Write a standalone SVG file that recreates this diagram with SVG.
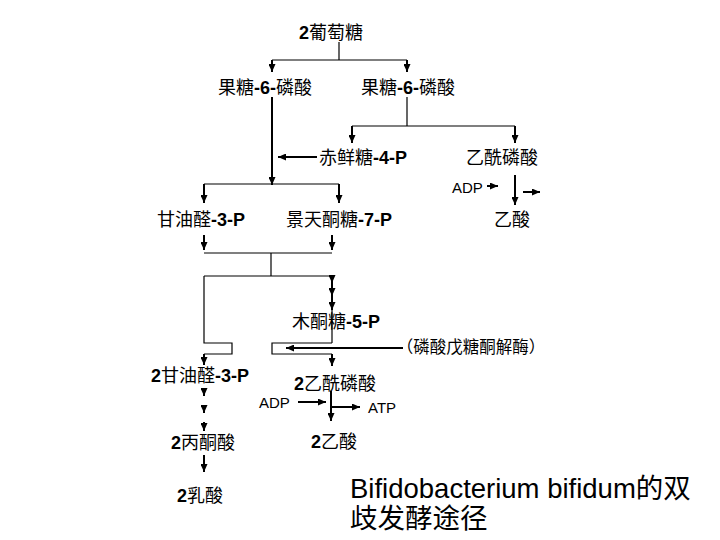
<svg xmlns="http://www.w3.org/2000/svg" width="720" height="540" viewBox="0 0 720 540">
<style>
text{font-family:"Liberation Sans","Noto Sans CJK SC",sans-serif;font-size:18px;fill:#000}
.b{font-weight:bold}
.s{font-size:15px}
.e{font-size:16.5px}
.t{font-size:27.5px}
.c line,.c polyline{stroke:#000;fill:none}
.w{stroke-width:2}
.n{stroke-width:1.2}
</style>
<defs>
<marker id="a" markerUnits="userSpaceOnUse" markerWidth="8" markerHeight="7" refX="8" refY="3.5" orient="auto">
<path d="M0,0 L8,3.5 L0,7 z" fill="#000"/>
</marker>
</defs>
<rect width="720" height="540" fill="#fff"/>
<g class="c" id="connectors">
<line class="n" x1="339" y1="42" x2="339" y2="60"/>
<line class="n" x1="272" y1="60" x2="407" y2="60"/>
<line class="w" x1="272" y1="60" x2="272" y2="72" marker-end="url(#a)"/>
<line class="w" x1="407" y1="60" x2="407" y2="72" marker-end="url(#a)"/>
<line class="w" x1="272" y1="97" x2="272" y2="185" marker-end="url(#a)"/>
<line class="n" x1="407" y1="97" x2="407" y2="126"/>
<line class="n" x1="352" y1="126" x2="515" y2="126"/>
<line class="w" x1="352" y1="126" x2="352" y2="143" marker-end="url(#a)"/>
<line class="w" x1="515" y1="126" x2="515" y2="143" marker-end="url(#a)"/>
<line class="w" x1="317" y1="157" x2="278" y2="157" marker-end="url(#a)"/>
<line class="n" x1="204" y1="184" x2="339" y2="184"/>
<line class="w" x1="204" y1="184" x2="204" y2="203" marker-end="url(#a)"/>
<line class="w" x1="339" y1="184" x2="339" y2="203" marker-end="url(#a)"/>
<line class="w" x1="487" y1="186" x2="498" y2="186" marker-end="url(#a)"/>
<line class="w" x1="515" y1="175" x2="515" y2="205" marker-end="url(#a)"/>
<line class="w" x1="523" y1="192" x2="540" y2="192" marker-end="url(#a)"/>
<line class="w" x1="204" y1="235" x2="204" y2="250" marker-end="url(#a)"/>
<line class="w" x1="332" y1="235" x2="332" y2="250" marker-end="url(#a)"/>
<line class="n" x1="204" y1="253" x2="332" y2="253"/>
<line class="n" x1="271" y1="253" x2="271" y2="276"/>
<line class="n" x1="204" y1="276" x2="332" y2="276"/>
<polyline class="n" points="204,276 204,343 232,343 232,354 204,354"/>
<line class="w" x1="204" y1="354" x2="204" y2="365" marker-end="url(#a)"/>
<line class="w" x1="332" y1="276" x2="332" y2="283" marker-end="url(#a)"/>
<line class="w" x1="332" y1="283" x2="332" y2="296" marker-end="url(#a)"/>
<line class="w" x1="332" y1="296" x2="332" y2="310" marker-end="url(#a)"/>
<line class="n" x1="332" y1="310" x2="332" y2="343"/>
<polyline class="n" points="332,343 272,343 272,354 332,354"/>
<line class="w" x1="332" y1="354" x2="332" y2="366" marker-end="url(#a)"/>
<line class="w" x1="403" y1="348" x2="286" y2="348" marker-end="url(#a)"/>
<line class="w" x1="204" y1="388" x2="204" y2="396" marker-end="url(#a)"/>
<line class="w" x1="204" y1="405" x2="204" y2="413" marker-end="url(#a)"/>
<line class="w" x1="204" y1="422" x2="204" y2="431" marker-end="url(#a)"/>
<line class="w" x1="204" y1="455" x2="204" y2="472" marker-end="url(#a)"/>
<line class="w" x1="331" y1="391" x2="331" y2="421" marker-end="url(#a)"/>
<line class="w" x1="298" y1="402" x2="326" y2="402" marker-end="url(#a)"/>
<line class="w" x1="331" y1="407" x2="360" y2="407" marker-end="url(#a)"/>
</g>
<g id="glucose"><text x="331" y="39" text-anchor="middle"><tspan class="b">2</tspan>葡萄糖</text></g>
<g id="f6p-left"><text x="265" y="94" text-anchor="middle">果糖<tspan class="b">-6-</tspan>磷酸</text></g>
<g id="f6p-right"><text x="408" y="94" text-anchor="middle">果糖<tspan class="b">-6-</tspan>磷酸</text></g>
<g id="e4p"><text x="363" y="164" text-anchor="middle">赤鲜糖<tspan class="b">-4-P</tspan></text></g>
<g id="acetylp"><text x="502" y="164" text-anchor="middle">乙酰磷酸</text></g>
<g id="adp1"><text class="s" x="452" y="193">ADP</text></g>
<g id="g3p"><text x="201" y="226" text-anchor="middle">甘油醛<tspan class="b">-3-P</tspan></text></g>
<g id="s7p"><text x="339" y="226" text-anchor="middle">景天酮糖<tspan class="b">-7-P</tspan></text></g>
<g id="acetate"><text x="512" y="226" text-anchor="middle">乙酸</text></g>
<g id="x5p"><text x="336" y="328" text-anchor="middle">木酮糖<tspan class="b">-5-P</tspan></text></g>
<g id="enzyme"><text class="e" x="471" y="353" text-anchor="middle">（磷酸戊糖酮解酶）</text></g>
<g id="g3p2"><text x="200" y="382" text-anchor="middle"><tspan class="b">2</tspan>甘油醛<tspan class="b">-3-P</tspan></text></g>
<g id="acetylp2"><text x="335" y="390" text-anchor="middle"><tspan class="b">2</tspan>乙酰磷酸</text></g>
<g id="adp2"><text class="s" x="259" y="408">ADP</text></g>
<g id="atp"><text class="s" x="368" y="413">ATP</text></g>
<g id="acetate2"><text x="334" y="448" text-anchor="middle"><tspan class="b">2</tspan>乙酸</text></g>
<g id="pyruvate"><text x="203" y="449" text-anchor="middle"><tspan class="b">2</tspan>丙酮酸</text></g>
<g id="lactate"><text x="200" y="502" text-anchor="middle"><tspan class="b">2</tspan>乳酸</text></g>
<g id="title"><text class="t" x="350" y="498">Bifidobacterium bifidum的双</text><text class="t" x="350" y="528">歧发酵途径</text></g>
</svg>
